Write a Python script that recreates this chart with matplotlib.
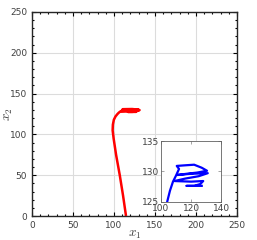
import matplotlib
matplotlib.use("Agg")
import matplotlib.pyplot as plt
from matplotlib.ticker import MultipleLocator

plt.rcParams["mathtext.fontset"] = "cm"

# trajectory (x1, x2)
x1 = [114.6, 111.0, 107.0, 102.5, 99.5, 98.3, 98.6, 99.8, 101.8, 104.2, 106.0, 108.0,
      110.0, 112.0, 110.5, 116.0, 122.0, 127.0, 130.5, 124.0, 117.0, 111.0, 120.0,
      131.0, 125.0, 116.0, 109.0, 120.0, 128.0, 126.0, 122.0, 117.0, 127.0]
x2 = [0.0, 25.0, 50.0, 75.0, 95.0, 105.0, 112.0, 118.0, 122.0, 125.0, 126.8, 128.3,
      129.3, 130.4, 130.9, 131.0, 131.1, 130.6, 130.1, 129.8, 129.6, 129.4, 129.6,
      129.7, 129.2, 128.8, 128.4, 128.3, 128.4, 127.9, 127.6, 127.6, 127.6]

main_ticks = [0, 50, 100, 150, 200, 250]
inset_xticks = [100, 120, 140]
inset_yticks = [125, 130, 135]

fig = plt.figure(figsize=(2.57, 2.40), dpi=100)
ax = fig.add_axes([0.1245, 0.10, 0.798, 0.85])
ax.plot(x1, x2, color="red", lw=1.8, solid_capstyle="butt")
ax.set_xlim(0, 250)
ax.set_ylim(0, 250)
ax.set_xticks(main_ticks)
ax.set_yticks(main_ticks)
ax.xaxis.set_minor_locator(MultipleLocator(10))
ax.yaxis.set_minor_locator(MultipleLocator(10))
ax.grid(True, color="#dcdcdc", lw=0.8)
ax.set_axisbelow(True)
ax.tick_params(which="both", direction="in", top=True, right=True,
               labelsize=6.5, labelcolor="#404040", width=0.8)
ax.tick_params(which="major", length=3)
ax.tick_params(which="minor", length=1.6)
for s in ax.spines.values():
    s.set_linewidth(1.0)
    s.set_color("#262626")
ax.set_xlabel("$x_1$", fontsize=9.5, color="#404040")
ax.set_ylabel("$x_2$", fontsize=9.5, color="#404040")
ax.xaxis.set_label_coords(0.502, -0.058)
ax.yaxis.set_label_coords(-0.085, 0.5)

ins = fig.add_axes([0.626, 0.160, 0.2354, 0.252])
ins.plot(x1, x2, color="blue", lw=1.6)
ins.set_xlim(100, 140)
ins.set_ylim(125, 135)
ins.set_xticks(inset_xticks)
ins.set_yticks(inset_yticks)
ins.tick_params(direction="in", length=2, width=0.5, labelsize=6.5,
                labelcolor="#404040", pad=1.5, top=True, right=True, color="#808080")
for s in ins.spines.values():
    s.set_linewidth(0.6)
    s.set_color("#606060")

fig.savefig("out.png", dpi=100)
